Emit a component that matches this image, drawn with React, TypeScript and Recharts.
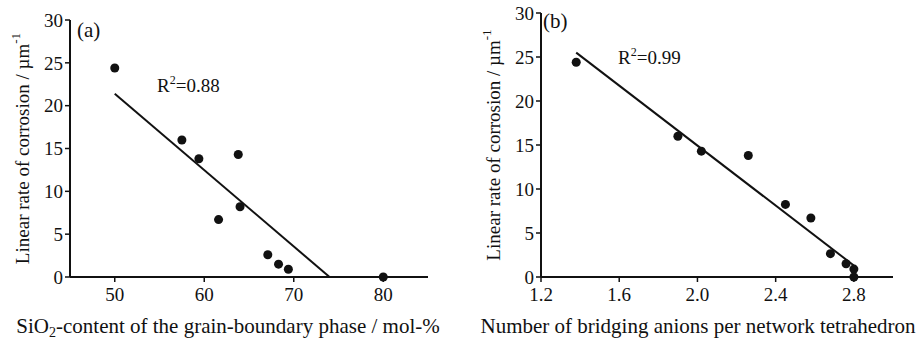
import { ScatterChart, Scatter, XAxis, YAxis, ZAxis, ReferenceLine, Label } from 'recharts';

const FONT = '"Liberation Serif", "Times New Roman", serif';
const INK = '#111';

// (a) SiO2 content of the grain-boundary phase, mol-%
const silicaContent = [50, 57.5, 59.4, 63.8, 61.6, 64.0, 67.1, 68.3, 69.4, 80.0];
const corrosionA = [24.4, 16.0, 13.8, 14.3, 6.7, 8.2, 2.6, 1.5, 0.9, 0.0];
const fitAx = [50, 74];
const fitAy = [21.4, 0];

// (b) bridging anions per network tetrahedron
const bridgingAnions = [1.38, 1.9, 2.02, 2.26, 2.45, 2.58, 2.68, 2.76, 2.8, 2.8];
const corrosionB = [24.4, 16.0, 14.3, 13.8, 8.25, 6.7, 2.65, 1.5, 0.9, 0.0];
const fitBx = [1.38, 2.8];
const fitBy = [25.5, 1.3];

const yTicks = [0, 5, 10, 15, 20, 25, 30];
const xTicksA = [50, 60, 70, 80];
const xTicksB = [1.2, 1.6, 2.0, 2.4, 2.8];

const pointsA = silicaContent.map((x, i) => ({ x, y: corrosionA[i] }));
const pointsB = bridgingAnions.map((x, i) => ({ x, y: corrosionB[i] }));

const tickStyle = { fill: INK, fontSize: 19, fontFamily: FONT };

interface YLabelProps {
  viewBox?: { x: number; y: number; width: number; height: number };
  dx: number;
}

function YTitle({ viewBox, dx }: YLabelProps) {
  if (!viewBox) return null;
  const cx = viewBox.x + dx;
  const cy = viewBox.y + viewBox.height / 2;
  return (
    <text
      x={cx}
      y={cy}
      transform={`rotate(-90 ${cx} ${cy})`}
      textAnchor="middle"
      dominantBaseline="central"
      fill={INK}
      fontSize={19}
      fontFamily={FONT}
    >
      Linear rate of corrosion / µm
      <tspan fontSize={13} dy={-7}>
        -1
      </tspan>
    </text>
  );
}

function Panel(props: {
  width: number;
  margin: { top: number; right: number; left: number; bottom: number };
  yWidth: number;
  yTitleDx: number;
  xDomain: [number, number];
  xTicks: number[];
  tickFmt: (v: number) => string;
  points: { x: number; y: number }[];
  fitX: number[];
  fitY: number[];
  tag: string;
  tagX: number;
  tagY: number;
  r2: string;
  r2X: number;
  r2Y: number;
  xTitle: JSX.Element;
}) {
  return (
    <ScatterChart width={props.width} height={341} margin={props.margin}>
      <XAxis
        type="number"
        dataKey="x"
        domain={props.xDomain}
        ticks={props.xTicks}
        tickFormatter={props.tickFmt}
        allowDataOverflow
        height={64}
        tick={tickStyle}
        tickSize={5}
        tickMargin={6}
        axisLine={{ stroke: INK, strokeWidth: 2 }}
        tickLine={{ stroke: INK, strokeWidth: 1.5 }}
      />
      <YAxis
        type="number"
        dataKey="y"
        domain={[0, 30]}
        ticks={yTicks}
        width={props.yWidth}
        tick={tickStyle}
        tickSize={5}
        tickMargin={2}
        axisLine={{ stroke: INK, strokeWidth: 2 }}
        tickLine={{ stroke: INK, strokeWidth: 1.5 }}
      >
        <Label content={(p: any) => <YTitle viewBox={p.viewBox} dx={props.yTitleDx} />} />
      </YAxis>
      <ZAxis range={[95, 95]} />
      <ReferenceLine
        segment={[
          { x: props.fitX[0], y: props.fitY[0] },
          { x: props.fitX[1], y: props.fitY[1] },
        ]}
        stroke={INK}
        strokeWidth={2}
      />
      <Scatter data={props.points} fill={INK} isAnimationActive={false} shape="circle" />
      <text x={props.tagX} y={props.tagY} fill={INK} fontSize={21} fontFamily={FONT}>
        {props.tag}
      </text>
      <text x={props.r2X} y={props.r2Y} fill={INK} fontSize={19} fontFamily={FONT}>
        R
        <tspan fontSize={12} dy={-8}>
          2
        </tspan>
        <tspan dy={8}>{props.r2}</tspan>
      </text>
      {props.xTitle}
    </ScatterChart>
  );
}

export default function App() {
  return (
    <div
      style={{
        position: 'absolute',
        left: 0,
        top: 0,
        width: 922,
        height: 341,
        background: '#fff',
        display: 'flex',
      }}
    >
      <Panel
        width={460}
        margin={{ top: 20, right: 32, left: 0, bottom: 0 }}
        yWidth={70}
        yTitleDx={22}
        xDomain={[45, 85]}
        xTicks={xTicksA}
        tickFmt={(v) => String(v)}
        points={pointsA}
        fitX={fitAx}
        fitY={fitAy}
        tag="(a)"
        tagX={77}
        tagY={37}
        r2="=0.88"
        r2X={157}
        r2Y={92}
        xTitle={
          <text x={228} y={333} textAnchor="middle" fill={INK} fontSize={21} fontFamily={FONT}>
            SiO
            <tspan fontSize={14} dy={4}>
              2
            </tspan>
            <tspan dy={-4}>-content of the grain-boundary phase / mol-%</tspan>
          </text>
        }
      />
      <Panel
        width={462}
        margin={{ top: 13, right: 29, left: 0, bottom: 0 }}
        yWidth={81}
        yTitleDx={33}
        xDomain={[1.2, 3.0]}
        xTicks={xTicksB}
        tickFmt={(v) => v.toFixed(1)}
        points={pointsB}
        fitX={fitBx}
        fitY={fitBy}
        tag="(b)"
        tagX={83}
        tagY={28}
        r2="=0.99"
        r2X={158}
        r2Y={64}
        xTitle={
          <text x={238} y={333} textAnchor="middle" fill={INK} fontSize={21} fontFamily={FONT}>
            Number of bridging anions per network tetrahedron
          </text>
        }
      />
    </div>
  );
}
